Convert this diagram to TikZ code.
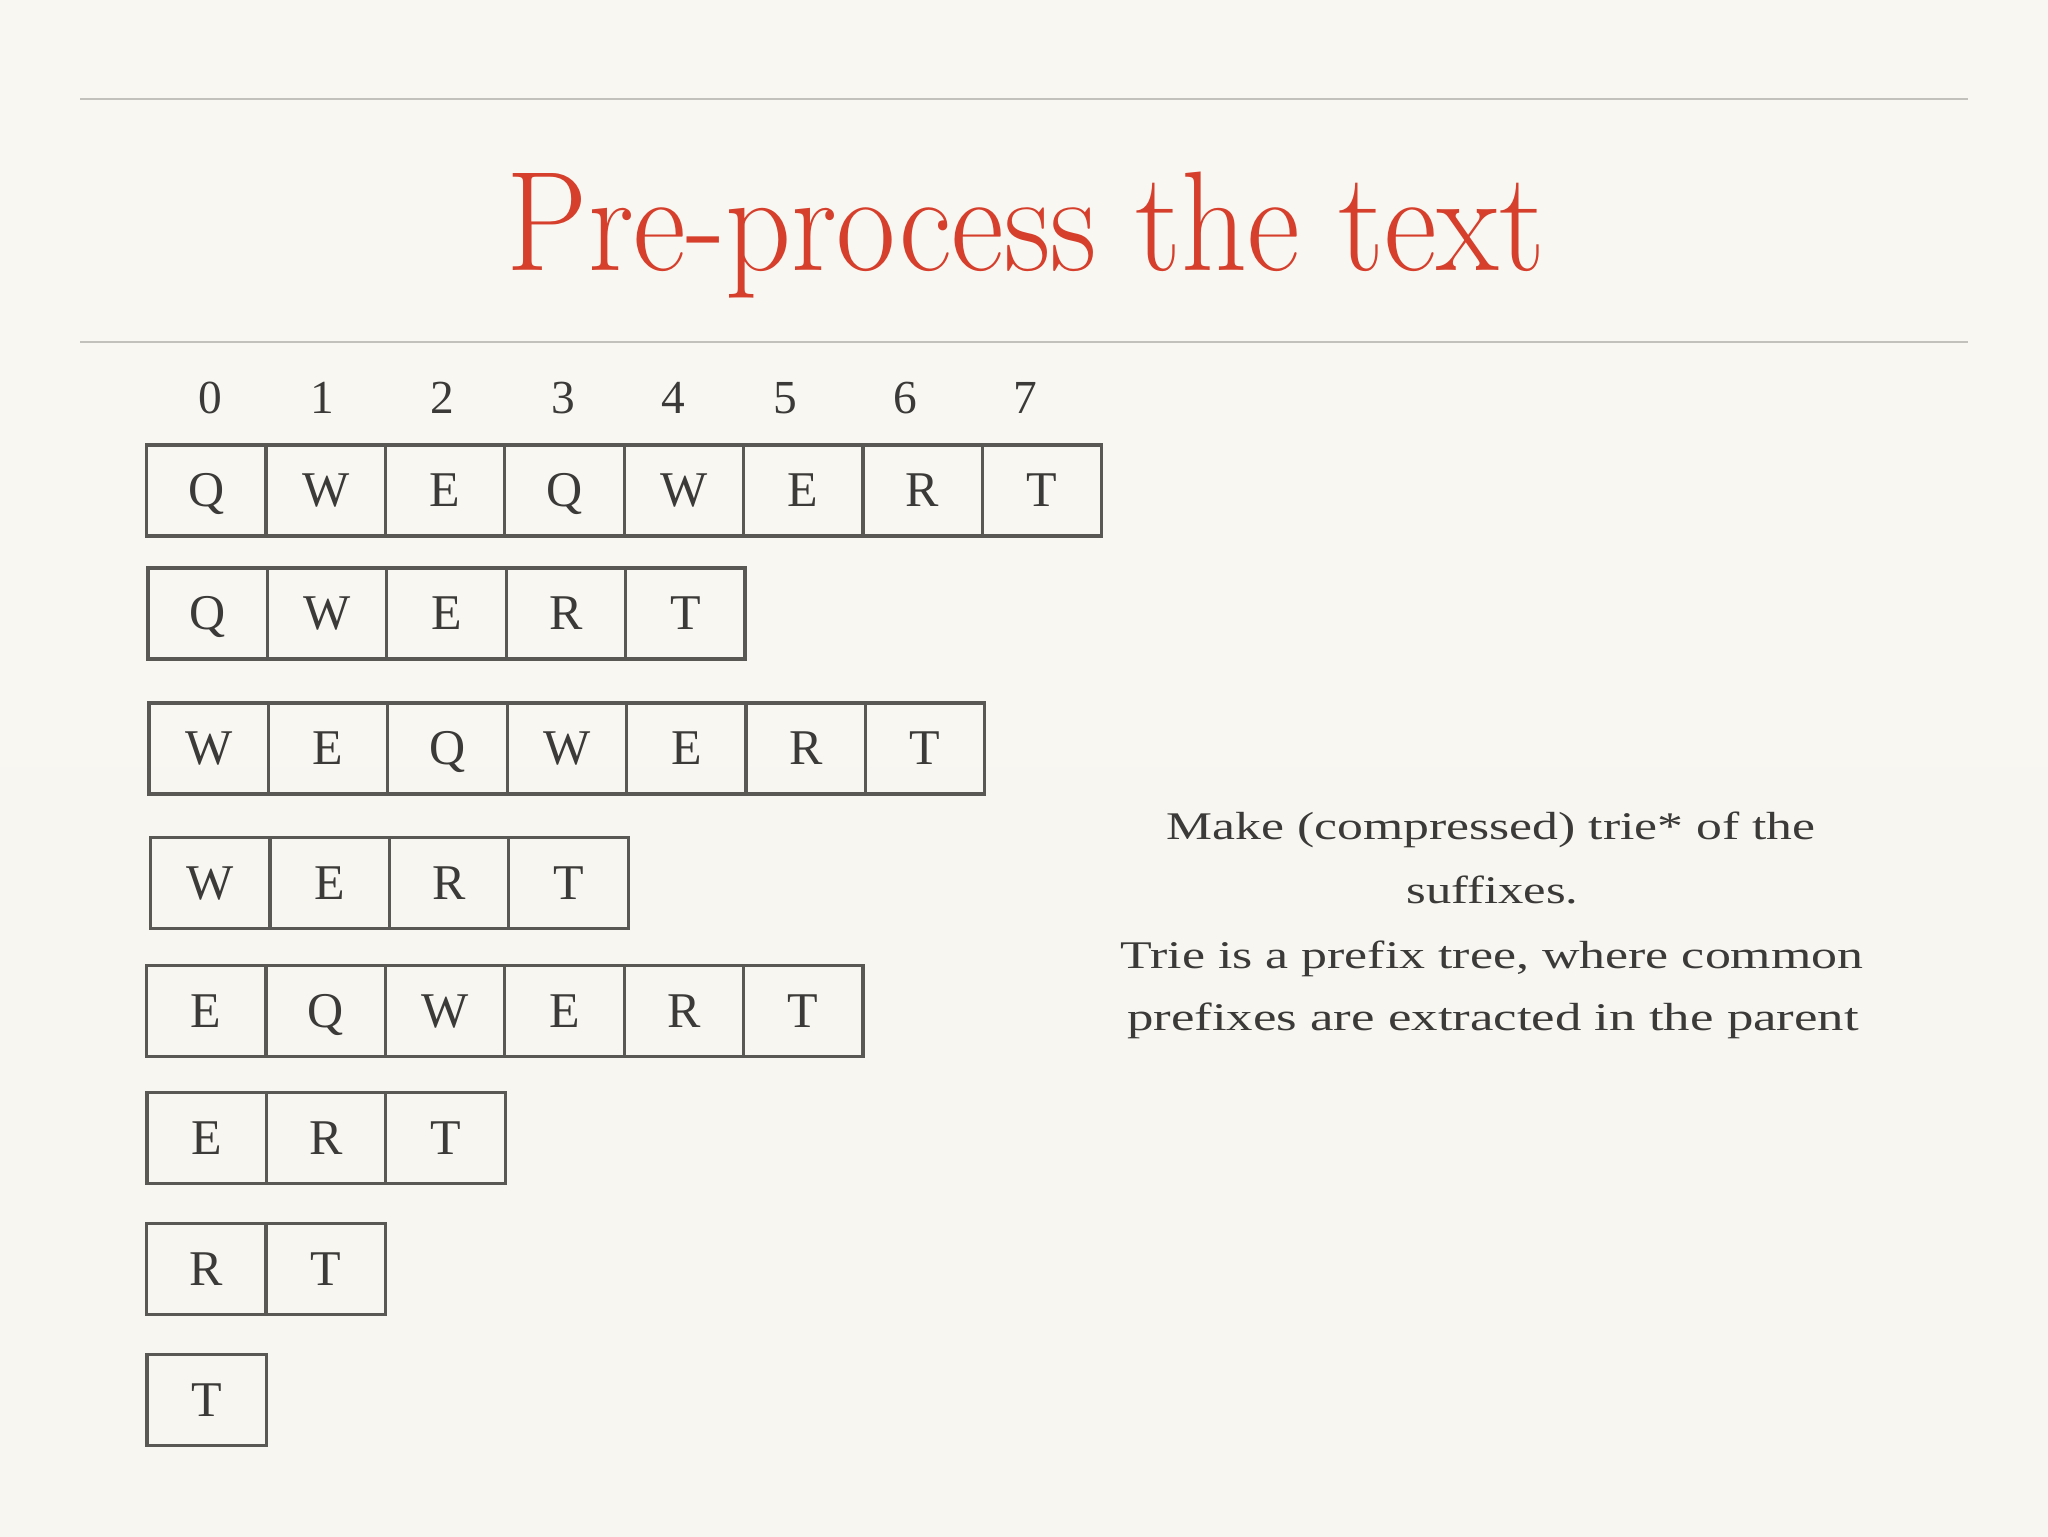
\documentclass[tikz,border=0pt]{standalone}
\usepackage{graphicx}
\usepackage{fontspec}
\setmainfont{Liberation Serif}
\definecolor{bgtop}{HTML}{F8F7F2}
\definecolor{bgmid}{HTML}{EAE8E4}
\definecolor{bgbot}{HTML}{F7F6F1}
\definecolor{rulegray}{HTML}{C3C1BB}
\definecolor{titlered}{HTML}{D63F2C}
\definecolor{ink}{HTML}{3C3A38}
\definecolor{boxgray}{HTML}{5A5854}
\begin{document}
\begin{tikzpicture}[x=0.5pt,y=-0.5pt,
  cell/.style={draw=boxgray, line width=1.6pt, minimum width=59.7pt, minimum height=45.5pt,
    inner sep=0pt, text=ink, font=\fontsize{25}{28}\selectfont, text height=16.4pt, text depth=0pt, anchor=center},
  idx/.style={text=ink, font=\fontsize{23.7}{28}\selectfont, anchor=base, inner sep=0pt},
  body/.style={text=ink, font=\fontsize{19.6}{24}\selectfont, anchor=base, inner sep=0pt},
  rulestyle/.style={draw=rulegray, line width=1pt}]
\useasboundingbox (0,0) rectangle (2048,1536);
\shade[top color=bgtop, middle color=bgmid, bottom color=bgbot] (0,0) rectangle (2048,1536);
% rules
\coordinate (r1a) at (80,99.5);   \coordinate (r1b) at (1968,99.5);
\coordinate (r2a) at (80,341.5);  \coordinate (r2b) at (1968,341.5);
\draw[rulestyle] (r1a) -- (r1b);
\draw[rulestyle] (r2a) -- (r2b);
% title
\node[anchor=base, inner sep=0pt, text=titlered] (title) at (1026,270)
  {\resizebox{519pt}{\height}{\fontfamily{lmr}\fontsize{71}{80}\selectfont Pre-process the text}};
% indices
\foreach \d/\xx in {0/210,1/322.6,2/442.7,3/563,4/673,5/785,6/905,7/1025}
  \node[idx] (i\d) at (\xx,413) {\d};
% suffix rows
\foreach \r/\left/\yc/\word in {1/146.5/490.5/{Q,W,E,Q,W,E,R,T},2/148/613.5/{Q,W,E,R,T},3/149/748.5/{W,E,Q,W,E,R,T},4/150.5/883/{W,E,R,T},5/146.5/1011/{E,Q,W,E,R,T},6/147/1138/{E,R,T},7/146.5/1269/{R,T},8/147/1400/{T}}{
  \foreach \ch [count=\c from 0] in \word
    \node[cell] (s\r-\c) at ({\left+59.75+119.4*\c},\yc) {\ch};
}
% explanation
\node[body] (t1) at (1491,839.5) {\resizebox{324.5pt}{\height}{Make (compressed) trie* of the}};
\node[body] (t2) at (1492.5,903.5) {\resizebox{86pt}{\height}{suffixes.}};
\node[body] (t3) at (1492,968.5) {\resizebox{371.5pt}{\height}{Trie is a prefix tree, where common}};
\node[body] (t4) at (1493,1030.5) {\resizebox{365.8pt}{\height}{prefixes are extracted in the parent}};
\end{tikzpicture}
\end{document}
